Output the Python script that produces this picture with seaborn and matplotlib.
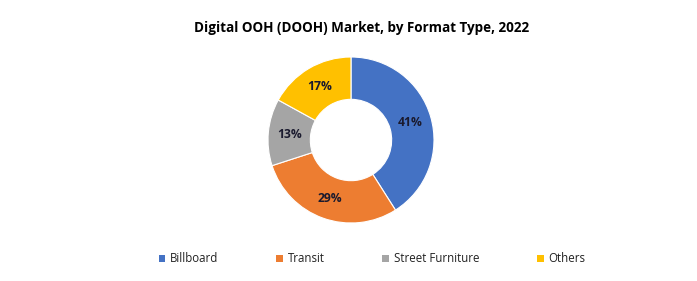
import matplotlib
matplotlib.use("Agg")
import matplotlib.pyplot as plt
import seaborn as sns
import numpy as np
from matplotlib.patches import Patch

categories = ["Billboard", "Transit", "Street Furniture", "Others"]
shares = [41, 29, 13, 17]
colors = ["#4472C4", "#ED7D31", "#A5A5A5", "#FFC000"]
title = "Digital OOH (DOOH) Market, by Format Type, 2022"

sns.set_style("white")
plt.rcParams['font.family'] = ['Open Sans', 'DejaVu Sans']

W, H = 697, 281
fig = plt.figure(figsize=(W / 100, H / 100), dpi=100)
fig.patch.set_facecolor("white")

cx, cy, r = 351, 140, 83
ax = fig.add_axes([(cx - r) / W, (H - cy - r) / H, 2 * r / W, 2 * r / H])
wedges, _ = ax.pie(shares, colors=colors, startangle=90, counterclock=False,
                   radius=1.0, wedgeprops=dict(width=0.51, edgecolor="white", linewidth=0.8))
ang = 90.0
for v, w in zip(shares, wedges):
    mid = ang - v / 100 * 360 / 2
    ang -= v / 100 * 360
    rr = 0.745
    ax.text(rr * np.cos(np.radians(mid)), rr * np.sin(np.radians(mid)), f"{v}%",
            ha="center", va="center", fontsize=8.7, fontweight="bold", color="#1a1a2e")
ax.set_xlim(-1, 1)
ax.set_ylim(-1, 1)
ax.set_aspect("equal")
ax.axis("off")

fig.text(361.5 / W, 1 - 28 / H, title, ha="center", va="center",
         fontsize=9.75, fontweight="bold", color="black")

handles = [Patch(facecolor=c, edgecolor="none") for c in colors]
fig.legend(handles, categories, loc="center", bbox_to_anchor=(372 / W, 1 - 259 / H),
           ncol=4, frameon=False, fontsize=8.3, handlelength=0.6, handleheight=0.6,
           handletextpad=0.4, columnspacing=5.0, labelcolor="#222222")

fig.savefig("out.png", dpi=100, facecolor="white")
